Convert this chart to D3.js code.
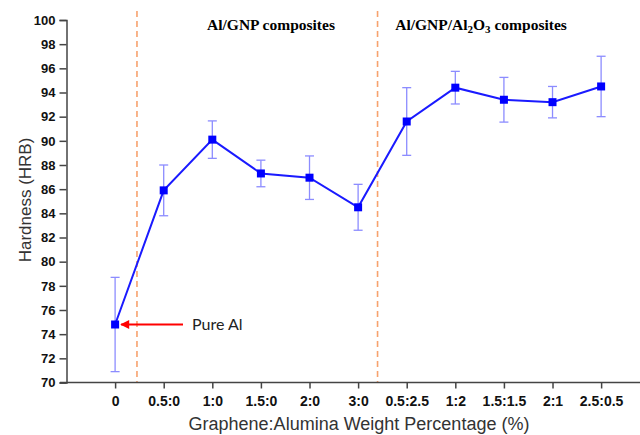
<!DOCTYPE html>
<html>
<head>
<meta charset="utf-8">
<script src="https://cdn.jsdelivr.net/npm/d3@7"></script>
<style>
  body { margin: 0; background: #fff; }
</style>
</head>
<body>
<div id="chart"></div>
<script>
const width = 640;
const height = 435;

// data
const categories = ["0", "0.5:0", "1:0", "1.5:0", "2:0", "3:0", "0.5:2.5", "1:2", "1.5:1.5", "2:1", "2.5:0.5"];
const hardness = [74.8, 85.9, 90.1, 87.3, 86.95, 84.5, 91.6, 94.4, 93.4, 93.2, 94.5];
const errors = [3.9, 2.1, 1.55, 1.1, 1.8, 1.9, 2.8, 1.35, 1.85, 1.3, 2.5];
const yTicks = d3.range(70, 101, 2);
const dividers = [0.45, 5.4];

const xScale = d3.scaleLinear().domain([-1, 10.8]).range([66.5, 640]);
const yScale = d3.scaleLinear().domain([70, 100]).range([382.5, 20]);

const svg = d3.select('#chart').append('svg')
    .attr('width', width)
    .attr('height', height);

// dashed separators
svg.selectAll('line.div')
    .data(dividers).enter()
    .append('line')
    .attr('class', 'div')
    .attr('x1', d => xScale(d))
    .attr('x2', d => xScale(d))
    .attr('y1', 11)
    .attr('y2', yScale(70))
    .style('stroke', '#f7a26e')
    .style('stroke-width', 1.6)
    .style('stroke-dasharray', '6,4');

// axes
const yAxis = d3.axisLeft(yScale).tickValues(yTicks).tickSize(7).tickPadding(4);
const xAxis = d3.axisBottom(xScale).tickValues(d3.range(categories.length))
    .tickFormat(i => categories[i]).tickSize(6).tickPadding(8);

const gy = svg.append('g')
    .attr('transform', `translate(${xScale(-1)},0)`)
    .call(yAxis);
const gx = svg.append('g')
    .attr('transform', `translate(0,${yScale(70)})`)
    .call(xAxis);
gx.select('.domain').attr('d', `M60,0H640`);

[gx, gy].forEach(g => {
    g.selectAll('.domain, line').style('stroke', '#444').style('stroke-width', 1.5);
    g.selectAll('text')
        .style('font-family', 'Liberation Sans, Arial, sans-serif')
        .style('font-size', '13px')
        .style('font-weight', 700)
        .style('fill', '#111');
});
gx.selectAll('text').style('font-size', '14px');

// error bars
const eb = svg.append('g');
hardness.forEach((v, i) => {
    const x = xScale(i);
    const lo = yScale(v - errors[i]);
    const hi = yScale(v + errors[i]);
    eb.append('line').attr('x1', x).attr('x2', x).attr('y1', lo).attr('y2', hi);
    eb.append('line').attr('x1', x - 4.5).attr('x2', x + 4.5).attr('y1', lo).attr('y2', lo);
    eb.append('line').attr('x1', x - 4.5).attr('x2', x + 4.5).attr('y1', hi).attr('y2', hi);
});
eb.selectAll('line').style('stroke', '#8c8cff').style('stroke-width', 1.3);

// main line
const line = d3.line()
    .x((d, i) => xScale(i))
    .y(d => yScale(d));
svg.append('path')
    .datum(hardness)
    .attr('d', line)
    .style('fill', 'none')
    .style('stroke', '#1a1aff')
    .style('stroke-width', 2);

svg.selectAll('rect.pt')
    .data(hardness).enter()
    .append('rect')
    .attr('class', 'pt')
    .attr('x', (d, i) => xScale(i) - 4)
    .attr('y', d => yScale(d) - 4)
    .attr('width', 8)
    .attr('height', 8)
    .style('fill', '#0000ff');

// Pure Al annotation
svg.append('defs').append('marker')
    .attr('id', 'arrow')
    .attr('viewBox', '0 0 10 10')
    .attr('refX', 9).attr('refY', 5)
    .attr('markerWidth', 6).attr('markerHeight', 4.5)
    .attr('orient', 'auto')
    .append('path')
    .attr('d', 'M0,0L10,5L0,10Z')
    .style('fill', '#ff0000');
svg.append('line')
    .attr('x1', 183).attr('x2', xScale(0) + 6)
    .attr('y1', yScale(hardness[0])).attr('y2', yScale(hardness[0]))
    .style('stroke', '#ff0000')
    .style('stroke-width', 2)
    .attr('marker-end', 'url(#arrow)');
svg.append('text')
    .attr('x', 192)
    .attr('y', yScale(hardness[0]) + 5)
    .style('font-family', 'Lato, sans-serif')
    .style('font-size', '16px')
    .style('fill', '#222')
    .text('Pure Al');

// section headers
const serif = 'Liberation Serif, Times New Roman, serif';
svg.append('text')
    .attr('x', 271).attr('y', 30)
    .attr('text-anchor', 'middle')
    .style('font-family', serif).style('font-size', '15.5px').style('font-weight', 700)
    .text('Al/GNP composites');
const h2 = svg.append('text')
    .attr('x', 481).attr('y', 30)
    .attr('text-anchor', 'middle')
    .style('font-family', serif).style('font-size', '15.5px').style('font-weight', 700);
h2.append('tspan').text('Al/GNP/Al');
h2.append('tspan').attr('dy', 3).style('font-size', '11px').text('2');
h2.append('tspan').attr('dy', -3).text('O');
h2.append('tspan').attr('dy', 3).style('font-size', '11px').text('3');
h2.append('tspan').attr('dy', -3).text(' composites');

// axis titles
svg.append('text')
    .attr('x', 359).attr('y', 430)
    .attr('text-anchor', 'middle')
    .style('font-family', 'Liberation Sans, Arial, sans-serif')
    .style('font-size', '18px')
    .style('fill', '#333')
    .text('Graphene:Alumina Weight Percentage (%)');
svg.append('text')
    .attr('transform', 'translate(31,200) rotate(-90)')
    .attr('text-anchor', 'middle')
    .style('font-family', 'Liberation Sans, Arial, sans-serif')
    .style('font-size', '17px')
    .style('fill', '#333')
    .text('Hardness (HRB)');
</script>
</body>
</html>
